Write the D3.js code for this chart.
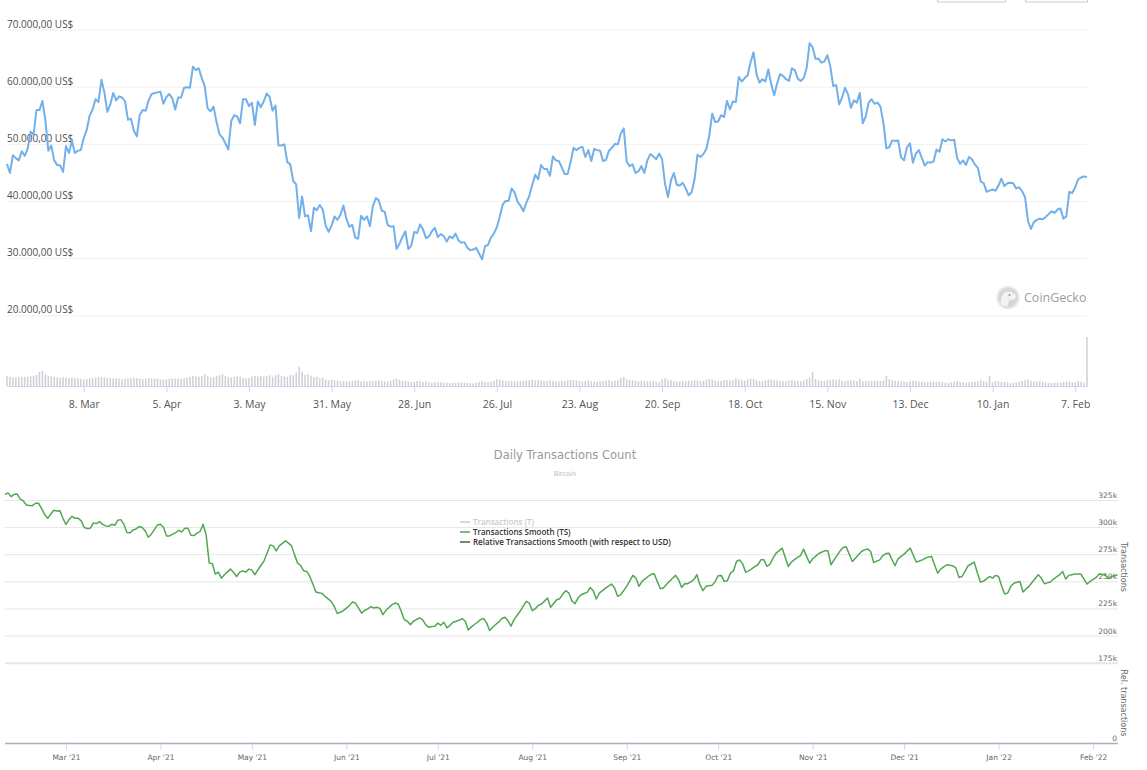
<!DOCTYPE html>
<html>
<head>
<meta charset="utf-8">
<script src="https://cdn.jsdelivr.net/npm/d3@7"></script>
<style>
  body { margin: 0; background: #fff; }
  svg { display: block; }
</style>
</head>
<body>
<svg id="chart" width="1147" height="770"></svg>
<script>
// ---- price chart data (CoinGecko style, one value per day from 10 Feb 2021) ----
const priceStart = '2021-02-10';
// BTC price, thousands of US$
const priceK = [
  46.5,44.9,48.0,47.5,47.1,48.7,47.9,49.1,52.1,51.6,55.9,55.9,57.5,54.2,48.8,49.7,47.1,46.3,46.2,45.1,
  49.6,48.4,50.5,48.4,48.8,48.9,51.0,52.4,54.9,56.0,57.8,57.3,61.2,59.0,55.6,56.9,58.9,57.6,58.3,58.1,57.4,54.2,54.4,52.3,51.3,55.1,55.9,55.8,57.6,58.7,58.9,
  59.0,59.1,57.0,58.2,58.7,58.0,56.0,58.1,58.1,59.8,59.9,59.8,63.5,62.9,63.2,61.5,60.1,56.2,55.7,56.5,53.8,51.7,51.1,50.1,49.0,54.0,55.0,54.8,53.6,57.8,
  57.8,56.6,57.2,53.3,57.4,56.4,57.4,58.8,58.2,55.8,56.7,49.7,49.7,49.9,46.8,46.4,43.5,42.9,37.0,40.8,37.3,37.5,34.7,38.8,38.4,39.3,38.5,35.7,34.6,35.7,37.3,
  36.7,37.6,39.2,36.9,35.5,35.8,33.6,33.4,37.4,36.7,37.3,35.6,39.1,40.5,40.1,38.3,38.1,35.8,35.5,35.6,31.6,32.5,33.7,34.7,31.6,32.2,34.6,34.4,35.9,35.0,
  33.5,33.8,34.7,35.3,33.7,34.2,33.9,32.9,33.8,33.5,34.3,33.1,32.7,32.8,31.8,31.4,31.5,31.8,30.8,29.8,32.1,32.3,33.6,34.3,35.4,37.3,39.4,40.0,40.0,42.2,41.5,
  39.9,39.2,38.2,39.7,40.9,42.8,44.6,43.8,46.3,45.6,45.6,44.4,47.8,47.1,47.0,45.9,44.7,44.7,46.8,49.3,48.9,49.3,49.5,47.7,48.9,47.0,49.1,48.9,48.8,47.0,47.2,
  48.8,49.3,50.0,49.9,51.8,52.7,46.9,46.1,46.4,44.9,45.2,46.1,44.9,47.1,48.2,47.8,47.3,48.3,47.3,43.0,40.7,43.6,44.9,42.8,42.7,43.2,42.2,41.0,41.5,43.8,
  48.1,47.7,48.2,49.1,51.5,55.3,53.8,53.9,55.0,54.7,57.5,56.0,57.4,57.3,61.7,60.9,61.5,62.0,64.3,66.0,62.2,60.7,61.3,60.9,63.0,60.4,58.5,60.6,62.2,61.9,61.3,
  61.0,63.2,62.9,61.4,61.0,61.5,63.3,67.6,66.9,64.9,64.9,64.2,64.4,65.5,63.6,60.1,60.3,56.9,58.1,59.8,58.7,56.3,57.6,57.2,58.9,53.6,54.8,57.2,57.8,57.0,
  57.2,56.5,53.7,49.2,49.4,50.6,50.5,50.6,47.6,47.1,49.4,50.1,46.7,48.3,48.9,47.6,46.2,46.8,46.7,46.9,49.0,48.6,50.8,50.4,50.8,50.6,50.7,47.5,46.5,47.1,46.3,
  47.7,47.3,46.4,45.8,43.4,43.1,41.6,41.8,42.0,41.8,42.7,43.9,42.6,43.1,43.2,43.1,42.2,42.4,41.7,40.7,36.5,35.1,36.3,36.7,36.9,36.8,37.2,37.7,38.2,37.9,38.5,
  38.7,36.9,37.3,41.6,41.4,42.4,43.8,44.1,44.3,44.2
];
// traded volume, billions of US$ (same days)
const volumeB = [
  60,55,52,50,52,54,55,56,58,60,66,84,90,70,62,58,54,50,48,
  52,50,48,50,48,47,44,40,42,46,48,50,52,54,52,50,48,46,46,44,42,44,46,48,50,46,44,42,44,48,46,
  44,46,40,38,40,44,46,44,46,44,46,50,54,60,58,56,60,70,58,50,54,60,66,72,60,52,50,54,58,56,
  48,46,48,56,60,58,62,56,60,64,56,66,72,60,58,54,68,64,80,116,86,66,72,62,54,56,46,50,38,34,40,
  36,32,30,28,26,26,30,34,36,28,30,26,28,30,32,34,30,28,26,32,40,44,36,30,32,28,24,26,30,28,
  24,26,22,20,22,24,22,20,20,18,18,20,20,22,20,18,18,16,20,24,28,26,22,26,30,40,38,34,30,32,28,
  28,30,30,32,34,36,38,34,36,34,30,32,34,30,28,28,32,30,34,36,34,32,30,28,30,32,28,26,24,28,30,
  34,36,30,32,34,48,54,40,36,34,30,28,32,30,28,30,28,26,24,40,46,38,36,30,26,28,28,30,32,30,
  36,34,30,32,36,42,38,32,28,30,36,36,34,36,46,40,34,32,40,44,42,36,30,28,34,38,40,36,34,30,30,
  28,34,36,32,30,28,32,42,52,84,42,36,30,28,34,36,40,38,40,30,28,34,36,32,30,44,28,30,32,30,
  30,32,30,34,60,40,36,32,30,28,26,24,28,32,30,28,26,24,22,26,28,26,28,24,20,18,22,26,28,24,22,
  20,22,24,26,28,34,30,26,60,22,30,28,26,24,22,18,20,22,26,30,36,40,32,26,28,30,24,22,20,18,20,
  20,22,24,26,28,22,24,30,26,20,294
];
const priceGrid = [20000, 30000, 40000, 50000, 60000, 70000];
const priceTicks = ['2021-03-08','2021-04-05','2021-05-03','2021-05-31','2021-06-28','2021-07-26',
  '2021-08-23','2021-09-20','2021-10-18','2021-11-15','2021-12-13','2022-01-10','2022-02-07'];

// ---- transactions chart data (one value per day from 9 Feb 2021) ----
const txStart = '2021-02-09';
// Transactions Smooth (TS), thousands
const txSmoothK = [
  330.2,331.4,328.1,330.2,330.5,325.9,324.1,320.4,319.9,319.8,322.0,322.0,317.3,311.8,308.1,311.8,315.5,314.9,315.2,308.1,
  302.6,306.9,310.0,308.1,308.1,305.7,299.6,298.7,299.0,303.9,303.3,305.1,302.5,301.1,300.8,302.6,301.7,306.3,306.9,302.6,
  295.0,294.7,297.4,298.3,300.5,299.6,296.5,290.7,293.5,297.7,302.0,302.6,299.9,291.9,291.9,293.5,295.0,297.1,295.6,299.0,
  299.0,292.5,292.2,294.4,295.9,302.6,292.8,266.8,266.5,256.7,258.5,253.0,256.1,258.7,261.3,258.2,254.5,258.5,259.7,258.5,
  261.3,260.4,256.1,260.7,264.8,268.9,276.2,283.6,282.7,278.1,282.7,285.0,287.3,285.2,282.7,274.4,266.8,264.6,259.7,259.1,
  254.5,247.5,240.1,239.5,238.9,236.2,233.9,231.6,227.0,220.3,221.5,223.0,225.3,227.6,231.0,230.0,225.4,220.6,223.3,224.5,
  226.7,225.4,226.1,225.1,219.3,223.3,225.9,228.5,230.0,229.1,222.4,214.7,213.2,210.1,213.2,214.8,216.3,214.7,210.1,207.7,
  208.3,208.5,211.5,209.5,212.3,207.1,209.5,212.3,213.2,214.1,215.7,213.2,205.2,208.0,210.2,212.3,214.7,215.7,211.7,204.6,
  207.7,210.2,212.6,215.7,216.9,213.8,208.6,214.7,218.5,222.4,227.0,231.6,230.0,223.0,224.8,227.9,229.1,231.8,234.6,226.1,
  229.6,233.1,234.0,238.3,241.4,239.2,232.0,229.4,234.6,237.7,238.8,239.8,244.4,241.4,233.7,239.2,241.5,243.8,245.6,247.5,
  243.8,236.2,237.7,241.5,245.6,250.5,255.5,253.0,245.4,250.0,252.3,254.5,256.5,257.0,250.0,243.2,243.8,247.0,250.0,252.8,
  255.5,251.5,244.4,247.8,247.8,249.6,251.5,256.1,246.9,241.4,245.4,245.9,246.3,250.0,255.2,255.5,250.0,250.6,257.6,259.7,
  268.3,269.8,266.2,258.5,259.7,261.6,263.5,265.3,269.8,269.8,263.7,265.9,271.4,276.0,278.3,280.6,272.0,263.7,267.7,270.0,
  272.0,273.8,279.7,273.0,266.8,270.8,273.3,275.7,277.0,278.1,278.1,265.3,269.8,274.0,278.1,281.2,281.8,275.0,268.3,271.4,
  274.5,277.5,279.0,279.9,277.5,267.4,268.6,269.8,273.8,275.6,276.0,270.0,264.4,270.8,273.0,275.1,278.0,280.6,274.0,267.7,
  268.8,269.8,271.4,272.5,272.9,265.0,257.6,261.3,263.3,265.3,264.8,264.4,262.2,253.6,254.5,259.5,264.4,266.0,267.7,258.0,
  249.4,250.0,252.3,254.5,253.0,255.5,254.5,245.4,238.3,239.2,245.4,248.3,249.2,249.8,240.1,243.0,245.4,249.1,252.6,256.1,
  253.0,247.8,248.6,249.4,252.1,254.1,256.1,259.1,252.1,255.5,256.1,256.7,256.7,256.7,252.0,247.5,250.0,251.8,253.6,256.7,
  256.4,256.1,252.4,254.5,255.3,256.1
];
const txGrid = [175000, 200000, 225000, 250000, 275000, 300000, 325000];
const txMonthTicks = ['2021-03-01','2021-04-01','2021-05-01','2021-06-01','2021-07-01','2021-08-01',
  '2021-09-01','2021-10-01','2021-11-01','2021-12-01','2022-01-01','2022-02-01'];
const legendNames = ['Transactions (T)', 'Transactions Smooth (TS)', 'Relative Transactions Smooth (with respect to USD)'];
const legendColors = ['#cccccc', '#52a852', '#555555'];
const legendTextColors = ['#cccccc', '#333333', '#333333'];

const parse = d3.utcParse('%Y-%m-%d');
const svg = d3.select('#chart');

// ================= top: price + volume =================
const priceDates = priceK.map((v, i) => d3.utcDay.offset(parse(priceStart), i));
const topX = d3.scaleUtc().domain([parse(priceStart), parse('2022-02-11')]).range([7, 1087]);
const topY = d3.scaleLinear().domain([20000, 70000]).range([315.3, 29.5]);
const volY = d3.scaleLinear().domain([0, 300]).range([386, 336]);

const usd = d3.formatLocale({ decimal: ',', thousands: '.', grouping: [3], currency: ['', ' US$'] }).format('$,.2f');

// range-selector buttons cut off at the top edge
svg.selectAll('rect.btn').data([[937, 1005], [1025, 1087]]).join('rect')
  .attr('class', 'btn')
  .attr('x', d => d[0] + 0.5).attr('y', -20).attr('width', d => d[1] - d[0]).attr('height', 22)
  .attr('fill', '#fff').attr('stroke', '#cccccc');

const yGrid = svg.append('g').attr('transform', 'translate(7,0)')
  .call(d3.axisRight(topY).tickValues(priceGrid).tickSize(1080).tickFormat(usd));
yGrid.select('.domain').remove();
yGrid.selectAll('.tick line').attr('stroke', '#f0f0f0');
yGrid.selectAll('.tick text')
  .attr('x', 0).attr('dy', -2.5).attr('text-anchor', 'start')
  .attr('font-family', 'Open Sans, sans-serif').attr('font-size', 10).attr('fill', '#4d4d4d');

// watermark
const wm = svg.append('g').attr('transform', 'translate(1008,297.5)');
wm.append('circle').attr('r', 11.5).attr('fill', '#e6e6e6');
wm.append('circle').attr('r', 9.5).attr('fill', '#d6d6d6');
wm.append('path').attr('d', 'M -7 7 C -8 0 -5 -6 0 -6 C 4 -6 7 -4 8 -1 C 8 2 4 3 1 2 C 1 5 0 7 -1 9 Z').attr('fill', '#f2f2f2');
wm.append('circle').attr('cx', 1.5).attr('cy', -2.5).attr('r', 1).attr('fill', '#9a9a9a');
svg.append('text').attr('x', 1024).attr('y', 302).text('CoinGecko')
  .attr('font-family', 'Open Sans, sans-serif').attr('font-size', 12.5).attr('fill', '#9e9e9e');

// volume bars
svg.append('g').selectAll('rect').data(volumeB).join('rect')
  .attr('x', (d, i) => topX(priceDates[i]) - 0.75)
  .attr('width', 1.5)
  .attr('y', d => volY(d))
  .attr('height', d => volY(0) - volY(d))
  .attr('fill', '#cdd0d6');

// price line
svg.append('path')
  .datum(priceK)
  .attr('fill', 'none').attr('stroke', '#72b0ea').attr('stroke-width', 2).attr('stroke-linejoin', 'round')
  .attr('d', d3.line().x((d, i) => topX(priceDates[i])).y(d => topY(d * 1000)));

const topAxis = svg.append('g').attr('transform', 'translate(0,386)')
  .call(d3.axisBottom(topX).tickValues(priceTicks.map(parse)).tickFormat(d3.utcFormat('%-d. %b')).tickSize(6).tickSizeOuter(0));
topAxis.select('.domain').attr('stroke', '#ccd6eb');
topAxis.selectAll('.tick line').attr('stroke', '#ccd6eb');
topAxis.selectAll('.tick text').attr('dy', '1.2em')
  .attr('font-family', 'Open Sans, sans-serif').attr('font-size', 10.5).attr('fill', '#555');

// ================= bottom: daily transactions =================
const txDates = txSmoothK.map((v, i) => d3.utcDay.offset(parse(txStart), i));
const botX = d3.scaleUtc().domain([parse(txStart), parse('2022-02-09')]).range([5, 1117.5]);
const botY = d3.scaleLinear().domain([175000, 325000]).range([662.7, 500]);
const font2 = 'DejaVu Sans, Verdana, sans-serif';

svg.append('text').attr('x', 565).attr('y', 459).attr('text-anchor', 'middle')
  .text('Daily Transactions Count')
  .attr('font-family', font2).attr('font-size', 11.5).attr('fill', '#999');
svg.append('text').attr('x', 565).attr('y', 475.5).attr('text-anchor', 'middle')
  .text('Bitcoin')
  .attr('font-family', font2).attr('font-size', 6.5).attr('fill', '#bbb');

const txGridG = svg.append('g').attr('transform', 'translate(5,0)')
  .call(d3.axisRight(botY).tickValues(txGrid).tickSize(1113).tickFormat(d => d / 1000 + 'k'));
txGridG.select('.domain').remove();
txGridG.selectAll('.tick line').attr('stroke', '#e6e6e6');
txGridG.selectAll('.tick').filter(d => d === 175000).select('line').attr('stroke-width', 2);
txGridG.selectAll('.tick text')
  .attr('x', 1112).attr('dy', -2.5).attr('text-anchor', 'end')
  .attr('font-family', font2).attr('font-size', 7.5).attr('fill', '#666');

svg.append('text').attr('x', 1117).attr('y', 741).attr('text-anchor', 'end').text('0')
  .attr('font-family', font2).attr('font-size', 7.5).attr('fill', '#666');

svg.append('text').attr('transform', 'translate(1121,567) rotate(90)').attr('text-anchor', 'middle')
  .text('Transactions').attr('font-family', font2).attr('font-size', 8).attr('fill', '#666');
svg.append('text').attr('transform', 'translate(1121,703) rotate(90)').attr('text-anchor', 'middle')
  .text('Rel. transactions').attr('font-family', font2).attr('font-size', 8).attr('fill', '#666');

// TS line
svg.append('path')
  .datum(txSmoothK)
  .attr('fill', 'none').attr('stroke', '#52a852').attr('stroke-width', 1.5).attr('stroke-linejoin', 'round')
  .attr('d', d3.line().x((d, i) => botX(txDates[i])).y(d => botY(d * 1000)));

const botAxis = svg.append('g').attr('transform', 'translate(0,743.5)')
  .call(d3.axisBottom(botX).tickValues(txMonthTicks.map(parse)).tickFormat(d3.utcFormat("%b '%y")).tickSize(6).tickSizeOuter(0));
botAxis.select('.domain').attr('stroke', '#a9b1c0').attr('stroke-width', 1.5).attr('d', 'M5,0H1118');
botAxis.selectAll('.tick line').attr('stroke', '#ccd6eb');
botAxis.selectAll('.tick text').attr('dy', '1.05em')
  .attr('font-family', font2).attr('font-size', 7.5).attr('fill', '#666');

// legend
const legend = svg.append('g').selectAll('g').data(legendNames).join('g')
  .attr('transform', (d, i) => `translate(460,${522 + i * 10})`);
legend.append('line').attr('x1', 0).attr('x2', 10)
  .attr('stroke', (d, i) => legendColors[i]).attr('stroke-width', 1.5);
legend.append('text').attr('x', 13).attr('dy', '0.35em').text(d => d)
  .attr('font-family', 'Open Sans, sans-serif').attr('font-size', 8).attr('font-weight', 600)
  .attr('fill', (d, i) => legendTextColors[i]);
</script>
</body>
</html>
